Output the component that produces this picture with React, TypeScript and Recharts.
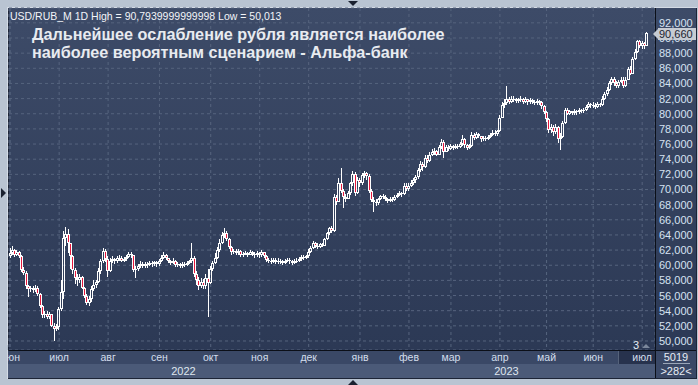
import React from "react";
import { ComposedChart, Bar, XAxis, YAxis, CartesianGrid } from "recharts";

// USD/RUB_M daily candles, June 2022 - July 2023
const firstOpen = 61.2;

const jun22Close = [61.6, 62.0, 61.4, 61.7, 61.2, 59.4, 59.0, 57.2, 56.8, 57.0, 56.7, 57.0, 56.2, 54.6, 53.4, 53.6, 53.2, 53.5, 52.0, 51.6, 51.8];
const jun22High = [62.3, 62.5, 62.1, 62.0, 61.9, 61.3, 59.8, 59.3, 57.4, 57.3, 57.3, 57.4, 57.2, 56.3, 54.8, 53.9, 53.9, 53.8, 53.6, 52.4, 52.3];
const jun22Low = [60.9, 61.3, 61.1, 61.2, 61.0, 59.1, 58.7, 56.9, 55.8, 56.5, 56.4, 56.5, 56.0, 54.3, 53.1, 53.1, 52.9, 52.9, 51.8, 50.01, 51.3];

const jul22Close = [54.2, 56.5, 63.6, 64.1, 63.0, 61.2, 59.4, 58.3, 58.0, 58.5, 57.0, 56.0, 55.0, 55.6, 56.9, 57.4, 57.8, 59.2, 60.5, 61.9, 60.8];
const jul22High = [54.5, 58.0, 64.5, 65.0, 64.8, 63.0, 61.3, 59.7, 58.9, 58.8, 58.6, 57.1, 56.2, 56.0, 57.2, 58.0, 58.1, 59.6, 60.8, 62.3, 62.1];
const jul22Low = [51.4, 54.0, 55.5, 62.5, 61.6, 59.5, 58.8, 57.5, 57.2, 57.6, 56.8, 55.7, 54.7, 54.6, 55.1, 56.6, 57.0, 57.6, 58.9, 60.3, 60.4];

const aug22Close = [59.3, 60.6, 60.8, 60.5, 60.9, 61.0, 60.6, 60.8, 61.1, 61.5, 61.3, 59.4, 59.5, 59.9, 60.2, 59.9, 60.2, 60.0, 60.3, 60.1, 60.4, 60.2];
const aug22High = [61.2, 60.9, 61.2, 61.0, 61.2, 61.3, 61.2, 61.1, 61.4, 61.8, 61.7, 61.4, 59.9, 60.2, 60.5, 60.4, 60.4, 60.4, 60.6, 60.5, 60.6, 60.6];
const aug22Low = [58.5, 59.1, 60.3, 60.2, 60.3, 60.6, 60.4, 60.4, 60.6, 60.9, 61.0, 59.1, 58.3, 59.3, 59.7, 59.6, 59.7, 59.7, 59.9, 59.8, 59.9, 59.8];

const sep22Close = [60.6, 61.0, 61.4, 60.9, 60.6, 60.3, 60.6, 60.0, 60.1, 59.9, 60.2, 60.0, 60.3, 60.5, 61.0, 58.8, 58.0, 57.3, 57.8, 57.2, 58.3, 57.6];
const sep22High = [60.8, 61.3, 61.7, 61.5, 61.0, 60.7, 60.9, 60.7, 60.4, 60.3, 60.4, 60.4, 60.5, 60.7, 62.9, 61.2, 59.2, 58.4, 58.3, 58.2, 58.9, 59.5];
const sep22Low = [59.9, 60.4, 60.8, 60.7, 60.3, 60.0, 60.1, 59.8, 59.8, 59.6, 59.7, 59.8, 59.9, 60.1, 60.3, 58.5, 57.4, 56.7, 57.0, 56.9, 56.9, 53.2];

const oct22Close = [59.5, 60.3, 61.0, 62.0, 63.0, 64.0, 64.3, 63.4, 62.4, 61.8, 61.9, 61.6, 61.9, 61.3, 61.5, 61.6, 61.4, 61.7, 61.5, 61.3, 61.6];
const oct22High = [59.9, 60.5, 61.6, 62.4, 63.4, 64.4, 64.9, 64.5, 63.6, 62.6, 62.2, 62.1, 62.1, 62.0, 61.8, 61.9, 61.8, 62.0, 61.9, 61.7, 61.9];
const oct22Low = [57.5, 59.2, 60.1, 60.8, 61.8, 62.8, 63.6, 63.2, 62.2, 61.4, 61.5, 61.3, 61.4, 61.1, 61.1, 61.3, 61.1, 61.3, 61.2, 61.0, 61.1];

const nov22Close = [61.3, 61.7, 61.2, 60.7, 60.6, 60.5, 60.7, 60.4, 60.6, 60.5, 60.3, 60.6, 60.7, 60.5, 60.3, 60.6, 60.6, 60.8, 61.1, 61.0, 61.2];
const nov22High = [61.8, 62.0, 61.8, 61.3, 61.0, 60.9, 60.9, 60.9, 60.9, 60.8, 60.7, 60.8, 60.9, 60.9, 60.7, 60.8, 60.9, 61.1, 61.3, 61.3, 61.4];
const nov22Low = [61.0, 61.1, 60.9, 60.4, 60.3, 60.2, 60.3, 60.1, 60.2, 60.2, 60.0, 60.2, 60.4, 60.2, 60.0, 60.2, 60.3, 60.4, 60.6, 60.7, 60.8];

const dec22Close = [61.8, 62.3, 62.9, 62.6, 62.4, 62.8, 62.6, 63.4, 64.2, 64.9, 64.5, 69.0, 68.4, 70.8, 69.8, 69.0, 68.8, 69.5, 70.8, 72.1, 69.5, 71.2];
const dec22High = [62.1, 62.6, 63.2, 63.1, 62.9, 63.0, 62.9, 63.6, 64.4, 65.1, 65.2, 69.4, 69.3, 71.5, 72.8, 70.1, 69.4, 69.8, 71.0, 72.4, 72.3, 71.6];
const dec22Low = [61.0, 61.6, 62.2, 62.3, 62.2, 62.3, 62.4, 62.5, 63.3, 64.0, 64.3, 64.4, 67.9, 68.4, 69.5, 67.5, 68.4, 68.7, 69.3, 70.4, 69.2, 69.4];

const jan23Close = [70.8, 71.9, 72.2, 71.8, 69.8, 68.6, 68.3, 68.2, 68.7, 69.1, 69.0, 68.7, 68.5, 68.8, 68.6, 69.0, 69.3, 69.5, 69.4, 70.4, 70.1];
const jan23High = [71.5, 72.2, 72.5, 72.3, 72.0, 70.1, 69.0, 68.8, 68.9, 69.3, 69.4, 69.3, 68.9, 69.0, 69.0, 69.3, 69.5, 69.8, 69.7, 70.9, 70.8];
const jan23Low = [70.3, 70.6, 71.5, 71.3, 69.5, 68.3, 67.0, 67.8, 68.0, 68.6, 68.8, 68.5, 68.2, 68.4, 68.3, 68.5, 68.9, 69.1, 69.0, 69.3, 69.8];

const feb23Close = [70.5, 70.9, 71.2, 71.6, 72.6, 73.3, 73.0, 74.2, 73.8, 74.6, 74.9, 75.1, 74.6, 75.6, 76.3, 75.0, 75.6, 75.4];
const feb23High = [70.9, 71.2, 71.5, 71.9, 72.9, 73.8, 73.6, 74.6, 74.5, 74.9, 75.3, 75.5, 75.2, 75.9, 76.6, 76.5, 75.9, 75.9];
const feb23Low = [69.8, 70.3, 70.6, 70.9, 71.4, 72.3, 72.5, 72.8, 73.5, 73.6, 74.4, 74.6, 74.4, 74.5, 75.4, 74.2, 74.9, 75.1];

const mar23Close = [75.7, 75.5, 75.8, 75.6, 76.0, 76.6, 75.9, 75.5, 75.8, 77.2, 76.8, 77.3, 77.0, 76.6, 76.8, 76.6, 76.9, 77.2, 77.5, 77.3, 77.7];
const mar23High = [76.0, 75.9, 76.0, 76.0, 76.3, 77.2, 76.8, 76.0, 76.0, 77.6, 77.4, 77.6, 77.5, 77.1, 77.1, 77.0, 77.2, 77.5, 77.8, 77.8, 77.9];
const mar23Low = [75.2, 75.2, 75.3, 75.4, 75.5, 75.8, 75.5, 75.2, 75.3, 75.6, 76.5, 76.6, 76.8, 76.3, 76.4, 76.4, 76.5, 76.8, 77.0, 77.1, 77.1];

const apr23Close = [79.5, 81.2, 81.4, 82.0, 81.6, 81.9, 82.0, 81.7, 81.8, 82.0, 81.6, 81.9, 81.5, 81.8, 81.6, 81.4, 81.7, 81.5, 81.0, 80.2];
const apr23High = [79.8, 81.6, 81.9, 83.7, 82.2, 82.3, 82.4, 82.1, 82.1, 82.3, 82.1, 82.2, 82.0, 82.1, 82.0, 81.8, 81.9, 81.8, 81.7, 81.2];
const apr23Low = [77.6, 79.4, 80.8, 81.1, 81.3, 81.4, 81.6, 81.4, 81.4, 81.6, 81.3, 81.4, 81.2, 81.3, 81.3, 81.1, 81.2, 81.2, 80.6, 80.0];

const may23Close = [79.3, 77.9, 78.2, 77.6, 78.3, 76.6, 76.9, 78.8, 80.5, 80.0, 80.3, 80.1, 80.4, 80.2, 80.5, 80.3, 80.5, 80.9, 81.3, 81.1];
const may23High = [80.4, 79.4, 78.7, 78.5, 78.6, 78.4, 77.5, 79.1, 80.8, 80.7, 80.5, 80.4, 80.6, 80.5, 80.7, 80.6, 80.8, 81.2, 81.5, 81.4];
const may23Low = [78.9, 77.5, 77.5, 77.1, 77.3, 76.2, 75.2, 76.8, 78.6, 79.8, 79.8, 79.8, 79.9, 79.9, 80.0, 80.1, 80.1, 80.3, 80.7, 80.8];

const jun23Close = [81.2, 80.9, 81.3, 81.1, 82.0, 82.6, 83.2, 84.0, 84.6, 84.0, 83.6, 84.2, 84.5, 83.7, 84.5, 85.9, 85.3, 87.2, 88.2, 89.6, 88.9];
const jun23High = [81.5, 81.4, 81.6, 81.4, 82.3, 82.9, 83.5, 84.3, 84.9, 84.8, 84.3, 84.4, 84.8, 84.9, 84.8, 86.2, 86.3, 87.5, 88.5, 89.8, 89.8];
const jun23Low = [80.8, 80.6, 80.8, 80.9, 81.0, 81.8, 82.4, 83.0, 83.8, 83.7, 83.4, 83.4, 84.0, 83.4, 83.5, 84.4, 85.1, 85.2, 87.1, 88.0, 88.7];

const jul23Close = [89.3, 89.0, 90.66];
const jul23High = [89.6, 89.5, 90.79];
const jul23Low = [88.6, 88.5, 88.9];

const monthLabels = ["июн", "июл", "авг", "сен", "окт", "ноя", "дек", "янв", "фев", "мар", "апр", "май", "июн", "июл"];
const yearLabels = ["2022", "2023"];
const priceTicks = [50, 52, 54, 56, 58, 60, 62, 64, 66, 68, 70, 72, 74, 76, 78, 80, 82, 84, 86, 88, 90, 92];

const months = [
  { close: jun22Close, high: jun22High, low: jun22Low },
  { close: jul22Close, high: jul22High, low: jul22Low },
  { close: aug22Close, high: aug22High, low: aug22Low },
  { close: sep22Close, high: sep22High, low: sep22Low },
  { close: oct22Close, high: oct22High, low: oct22Low },
  { close: nov22Close, high: nov22High, low: nov22Low },
  { close: dec22Close, high: dec22High, low: dec22Low },
  { close: jan23Close, high: jan23High, low: jan23Low },
  { close: feb23Close, high: feb23High, low: feb23Low },
  { close: mar23Close, high: mar23High, low: mar23Low },
  { close: apr23Close, high: apr23High, low: apr23Low },
  { close: may23Close, high: may23High, low: may23Low },
  { close: jun23Close, high: jun23High, low: jun23Low },
  { close: jul23Close, high: jul23High, low: jul23Low },
];

type Candle = { i: number; open?: number; close?: number; high?: number; low?: number; range?: [number, number] };

const candles: Candle[] = [];
const monthStarts: number[] = [];
let prevClose = firstOpen;
months.forEach((m) => {
  monthStarts.push(candles.length);
  m.close.forEach((c, k) => {
    const open = prevClose;
    const high = Math.max(m.high[k], open, c);
    const low = Math.min(m.low[k], open, c);
    candles.push({ i: candles.length, open, close: c, high, low, range: [low, high] });
    prevClose = c;
  });
});
// empty slots on the right edge
for (let k = 0; k < 3; k++) candles.push({ i: candles.length });

const RED = "#e5173c";

const CandleShape = (props: any) => {
  const { x, y, width, height, payload } = props;
  if (!payload || payload.open === undefined) return null;
  const { open, close, high, low } = payload;
  const span = high - low;
  const py = (v: number) => (span > 0 ? y + ((high - v) / span) * height : y);
  const cx = Math.floor(x + width / 2);
  const top = Math.round(py(Math.max(open, close)));
  const bottom = Math.round(py(Math.min(open, close)));
  const yHigh = Math.round(py(high));
  const yLow = Math.round(py(low));
  const down = close < open;
  return (
    <g>
      {yHigh < top && <line x1={cx + 0.5} x2={cx + 0.5} y1={yHigh} y2={top} stroke="#fff" />}
      {yLow > bottom && <line x1={cx + 0.5} x2={cx + 0.5} y1={bottom} y2={yLow} stroke="#fff" />}
      {bottom - top <= 2 ? (
        <rect x={cx - 1} y={top} width={3} height={Math.max(bottom - top, 1)} fill="#fff" />
      ) : (
        <rect x={cx - 0.5} y={top + 0.5} width={2} height={bottom - top - 1} fill={down ? RED : "none"} stroke="#fff" />
      )}
    </g>
  );
};

const MonthTick = (props: any) => {
  const { x, payload } = props;
  const idx = monthStarts.indexOf(payload.value);
  return (
    <text x={x} y={361} textAnchor="middle" fill="#d3deec" fontSize={10.5}>
      {monthLabels[idx]}
    </text>
  );
};

const PriceTick = (props: any) => {
  const { y, payload } = props;
  return (
    <text x={659} y={y + 4} fill="#d6e2f2" fontSize={11}>
      {payload.value.toFixed(3).replace(".", ",")}
    </text>
  );
};

const abs = (left: number, top: number, width: number, height: number, extra: React.CSSProperties = {}): React.CSSProperties => ({
  position: "absolute",
  left,
  top,
  width,
  height,
  ...extra,
});

export default function App() {
  return (
    <div style={{ position: "absolute", left: 0, top: 0, width: 698, height: 385, background: "#b9c4d2", overflow: "hidden", fontFamily: "'Liberation Sans', Arial, sans-serif" }}>
      {/* frame and panels */}
      <div style={abs(7, 7, 690, 372, { background: "#1c2436", borderLeft: "1px solid #d4dbe5", borderTop: "1px solid #d4dbe5", boxSizing: "border-box" })} />
      <div style={abs(9, 8, 646, 342, { background: "linear-gradient(#3d4b68, #2c3955)" })} />
      <div style={abs(656, 8, 40, 342, { background: "linear-gradient(#3d4b68, #2c3955)" })} />
      <div style={abs(8, 351, 647, 13, { background: "#3a4866" })} />
      <div style={abs(618, 351, 37, 13, { background: "#27324d", borderLeft: "1px solid #55627a" })} />
      <div style={abs(8, 364, 647, 14, { background: "#4b5a78" })} />
      <div style={abs(656, 351, 40, 27, { background: "#3a4866" })} />

      <div style={{ position: "absolute", left: 0, top: 0 }}>
        <ComposedChart width={698} height={385} data={candles} margin={{ top: 8, right: 3, bottom: 21, left: 9 }} barCategoryGap={0}>
          <CartesianGrid stroke="#56647e" strokeDasharray="3 3" />
          <XAxis dataKey="i" ticks={monthStarts} interval={0} tick={<MonthTick />} tickLine={false} axisLine={false} height={14} />
          <YAxis
            orientation="right"
            domain={[48.81, 93.96]}
            ticks={priceTicks}
            interval={0}
            allowDataOverflow
            tick={<PriceTick />}
            tickLine={false}
            axisLine={false}
            width={40}
          />
          <Bar dataKey="range" shape={<CandleShape />} isAnimationActive={false} />
        </ComposedChart>
      </div>

      {/* overlays */}
      <div style={abs(0, 345, 8, 40, { background: "#b9c4d2" })} />
      <div style={abs(7, 350, 1, 29, { background: "#d4dbe5" })} />
      <div style={abs(655, 8, 1, 370, { background: "#0b0f18" })} />
      <div style={abs(9, 350, 687, 1, { background: "#0b0f18" })} />

      <div style={abs(10, 10, 400, 12, { color: "#f2f4f8", fontSize: 10.5, lineHeight: "12px", whiteSpace: "nowrap" })}>
        USD/RUB_M 1D High = 90,7939999999998 Low = 50,013
      </div>
      <div style={abs(32, 25, 480, 38, { color: "#e8ebf0", fontSize: 16.2, fontWeight: "bold", lineHeight: "18px", whiteSpace: "nowrap" })}>
        Дальнейшее ослабление рубля является наиболее
        <br />
        наиболее вероятным сценарием - Альфа-банк
      </div>

      {/* last price marker */}
      <div style={abs(653, 29, 0, 0, { borderTop: "5px solid transparent", borderBottom: "5px solid transparent", borderRight: "5px solid #c6cbd3" })} />
      <div style={abs(658, 28, 37, 12, { background: "#c6cbd3", color: "#1d2330", fontSize: 11, lineHeight: "12px", paddingLeft: 1 })}>90,660</div>

      <div style={abs(633, 339, 10, 12, { color: "#e6ecf4", fontSize: 11, lineHeight: "12px" })}>3</div>
      <div style={abs(642, 344, 0, 0, { borderLeft: "4px solid transparent", borderRight: "4px solid transparent", borderBottom: "4px solid #7b879b" })} />

      <div style={abs(9, 364, 349, 14, { color: "#dfe6ef", fontSize: 11, lineHeight: "14px", textAlign: "center" })}>{yearLabels[0]}</div>
      <div style={abs(358, 364, 297, 14, { color: "#dfe6ef", fontSize: 11, lineHeight: "14px", textAlign: "center" })}>{yearLabels[1]}</div>

      <div style={abs(656, 351, 40, 13, { color: "#e6ecf4", fontSize: 11, lineHeight: "13px", textAlign: "center" })}>5019</div>
      <div style={abs(663, 363, 27, 1, { background: "#9aa6b8" })} />
      <div style={abs(656, 364, 40, 14, { color: "#e6ecf4", fontSize: 11, lineHeight: "14px", textAlign: "center" })}>&gt;282&lt;</div>

      {/* edge arrows */}
      <div style={abs(348, 1, 0, 0, { borderLeft: "5px solid transparent", borderRight: "5px solid transparent", borderTop: "5px solid #1a2130" })} />
      <div style={abs(1, 188, 0, 0, { borderTop: "5px solid transparent", borderBottom: "5px solid transparent", borderLeft: "5px solid #1a2130" })} />
      <div style={abs(348, 380, 0, 0, { borderLeft: "5px solid transparent", borderRight: "5px solid transparent", borderBottom: "5px solid #1a2130" })} />
    </div>
  );
}
